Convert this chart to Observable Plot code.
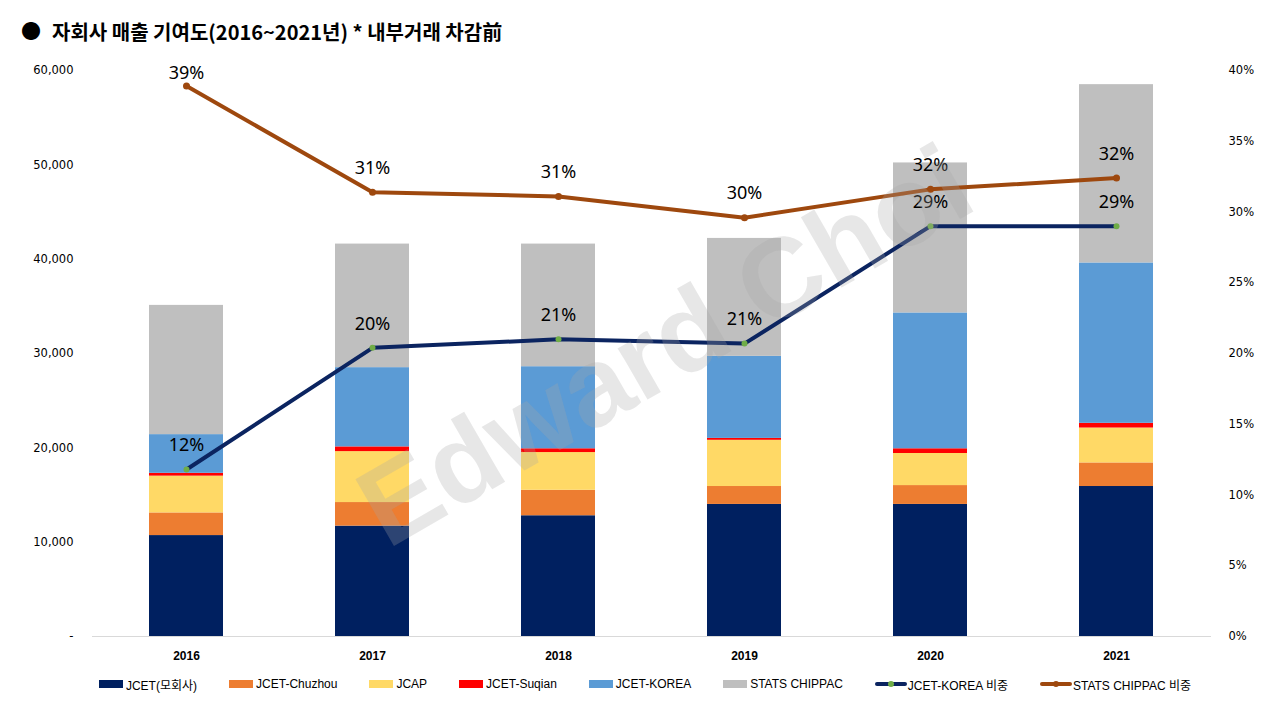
<!DOCTYPE html>
<html>
<head>
<meta charset="utf-8">
<script src="https://cdn.jsdelivr.net/npm/d3@7"></script>
<script src="https://cdn.jsdelivr.net/npm/@observablehq/plot@0.6"></script>
<style>
  body { margin: 0; background: #fff; width: 1280px; height: 720px; overflow: hidden; font-family: "Noto Sans", "Noto Sans CJK KR", sans-serif; }
  #title { height: 45px; position: relative; }
  #title .b { position: absolute; left: 21px; top: 19px; font-size: 20px; line-height: 26px; }
  #title .t { position: absolute; left: 52px; top: 18px; font-size: 20px; line-height: 28px; font-weight: 700; font-family: "Noto Sans CJK KR", sans-serif; color: #000; }
  #chart svg { display: block; }
  #legend { height: 36px; display: flex; justify-content: center; align-items: center; font-family: "Liberation Sans", "Noto Sans CJK KR", sans-serif; font-size: 12px; color: #000; padding-left: 10px; }
  #legend .item { display: flex; align-items: center; margin-right: 32px; }
  #legend .item:last-child { margin-right: 0; }
  #legend .sw { width: 24px; height: 8px; margin-right: 3px; }
</style>
</head>
<body>
<div id="title"><span class="b">●</span><span class="t">자회사 매출 기여도(2016~2021년) * 내부거래 차감前</span></div>
<div id="chart"></div>
<div id="legend"></div>
<script>
// ---- data ----
const years = ["2016", "2017", "2018", "2019", "2020", "2021"];
const seriesNames = ["JCET(모회사)", "JCET-Chuzhou", "JCAP", "JCET-Suqian", "JCET-KOREA", "STATS CHIPPAC"];
const jcet    = [10700, 11700, 12800, 14000, 14000, 15900];
const chuzhou = [2400, 2500, 2700, 1900, 2000, 2500];
const jcap    = [3900, 5400, 4000, 4900, 3400, 3700];
const suqian  = [300, 500, 400, 200, 500, 500];
const korea   = [4100, 8400, 8700, 8700, 14400, 17000];
const stats   = [13700, 13100, 13000, 12500, 15900, 18900];
const koreaShare = [11.8, 20.4, 21.0, 20.7, 29.0, 29.0];   // %
const statsShare = [38.9, 31.4, 31.1, 29.6, 31.6, 32.4];   // %
const lineNames = ["JCET-KOREA 비중", "STATS CHIPPAC 비중"];
const leftTicks = [0, 10000, 20000, 30000, 40000, 50000, 60000];
const rightTicks = [0, 5, 10, 15, 20, 25, 30, 35, 40];

// ---- styles ----
const seriesColors = ["#002060", "#ED7D31", "#FFD966", "#FF0000", "#5B9BD5", "#BFBFBF"];
const koreaLine = "#0B2460", koreaDot = "#70AD47";
const statsLine = "#9E480E";

const K = 60000 / 40; // left units per 1% on the right axis
const seriesValues = [jcet, chuzhou, jcap, suqian, korea, stats];
const barRows = years.flatMap((y, i) => seriesNames.map((s, j) => ({year: y, series: s, value: seriesValues[j][i]})));
const koreaRows = years.map((y, i) => ({year: y, v: koreaShare[i]}));
const statsRows = years.map((y, i) => ({year: y, v: statsShare[i]}));
const labelY = d => Math.min(d.v * K + 2550, 59700);
const pct = d => Math.round(d.v) + "%";

const chart = Plot.plot({
  width: 1280,
  height: 621,
  marginTop: 25,
  marginBottom: 30,
  marginLeft: 92,
  marginRight: 69,
  style: {fontFamily: "'DejaVu Sans', sans-serif", fontSize: "11.5px", color: "#000", background: "transparent"},
  x: {type: "band", domain: years, paddingInner: 0.6, paddingOuter: 0.3, axis: null, label: null},
  y: {domain: [0, 60000], axis: null, label: null},
  color: {domain: seriesNames, range: seriesColors},
  marks: [
    Plot.barY(barRows, {x: "year", y: "value", fill: "series"}),
    Plot.ruleY([0], {stroke: "#d9d9d9", strokeWidth: 1}),
    Plot.axisX({tickSize: 0, tickPadding: 15, label: null, fontWeight: "bold", fontSize: 12, fontFamily: "'Liberation Sans', sans-serif"}),
    Plot.axisY({anchor: "left", ticks: leftTicks, tickSize: 0, tickPadding: 19, label: null,
      tickFormat: d => d === 0 ? "-" : d3.format(",")(d)}),
    Plot.axisY({anchor: "right", ticks: rightTicks.map(t => t * K), tickSize: 0, tickPadding: 17, label: null,
      tickFormat: d => Math.round(d / K) + "%"}),
    Plot.line(statsRows, {x: "year", y: d => d.v * K, stroke: statsLine, strokeWidth: 4}),
    Plot.dot(statsRows, {x: "year", y: d => d.v * K, r: 3.5, fill: statsLine}),
    Plot.line(koreaRows, {x: "year", y: d => d.v * K, stroke: koreaLine, strokeWidth: 4}),
    Plot.dot(koreaRows, {x: "year", y: d => d.v * K, r: 3, fill: koreaDot}),
    Plot.text(statsRows, {x: "year", y: labelY, text: pct, fontSize: 18, fill: "#000", fontFamily: "'Noto Sans', sans-serif"}),
    Plot.text(koreaRows, {x: "year", y: labelY, text: pct, fontSize: 18, fill: "#000", fontFamily: "'Noto Sans', sans-serif"}),
    Plot.text(["Edward Choi"], {frameAnchor: "middle", dx: 14, dy: -6, rotate: -30, fontSize: 112, fontWeight: "bold",
      fontFamily: "'Liberation Sans', sans-serif", fill: "#a6a6a6", fillOpacity: 0.27})
  ]
});
document.getElementById("chart").appendChild(chart);

// ---- legend ----
const legend = document.getElementById("legend");
seriesNames.forEach((s, i) => {
  const it = document.createElement("div");
  it.className = "item";
  it.innerHTML = `<div class="sw" style="background:${seriesColors[i]}"></div><span>${s}</span>`;
  legend.appendChild(it);
});
[[lineNames[0], koreaLine, koreaDot], [lineNames[1], statsLine, statsLine]].forEach(([name, lc, dc]) => {
  const it = document.createElement("div");
  it.className = "item";
  it.innerHTML = `<svg width="32" height="12" style="margin-right:1px"><line x1="2" x2="30" y1="6" y2="6" stroke="${lc}" stroke-width="4" stroke-linecap="round"/><circle cx="16" cy="6" r="3" fill="${dc}"/></svg><span>${name}</span>`;
  legend.appendChild(it);
});
</script>
</body>
</html>
